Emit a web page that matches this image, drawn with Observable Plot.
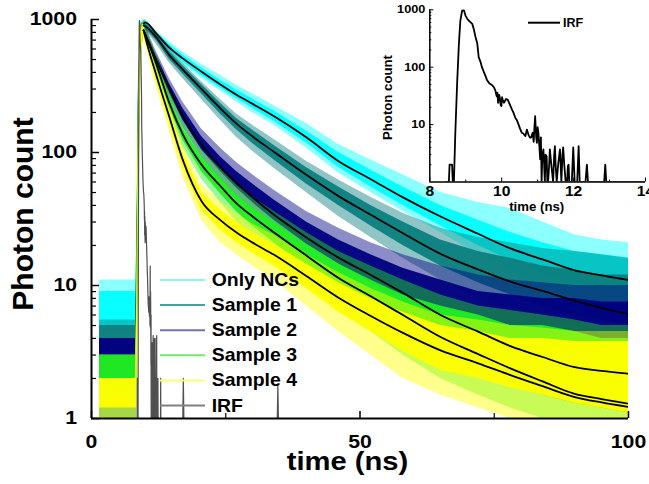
<!DOCTYPE html>
<html><head><meta charset="utf-8">
<script src="https://cdn.jsdelivr.net/npm/d3@7"></script>
<script src="https://cdn.jsdelivr.net/npm/@observablehq/plot@0.6"></script>
<style>
html,body{margin:0;padding:0;background:#fff;}
#wrap{position:relative;width:649px;height:484px;overflow:hidden;font-family:"Liberation Sans",Arial,sans-serif;}
#wrap > svg{position:absolute;overflow:visible;}
</style></head><body><div id="wrap"></div>
<script>
// ---------- data ----------
const seriesNames = ["Only NCs", "Sample 1", "Sample 2", "Sample 3", "Sample 4", "IRF"];
const seriesColors = ["#00ffff", "#0b7f7f", "#000080", "#22ee22", "#ffff00", "#505050"];
const legendColors = ["#8ff4f4", "#4a9e9e", "#7070b8", "#70e870", "#ffff70", "#808080"];

// noisy decay envelopes (outer = spikes, inner = dense part)
const bandTimes = [1.5, 8.2, 8.45, 8.75, 9.2, 9.7, 10, 12, 14.5, 17, 20.5, 24, 27, 30, 34, 40, 46, 52, 58, 65, 72, 78, 84, 90, 95, 100];

const onlyNCsOuterLo = [4.5, 4.5, 4.5, 60, 600, 900, 880, 720, 560, 460, 360, 290, 240, 200, 160, 108, 70, 50, 36, 25, 17, 13, 10, 8, 7.5, 7];
const onlyNCsOuterHi = [11, 11, 30, 400, 950, 1000, 1000, 830, 680, 570, 460, 380, 320, 275, 225, 165, 115, 88, 68, 50, 42, 38, 30, 24, 22, 21];
const onlyNCsInnerLo = [5, 5, 5, 80, 700, 920, 900, 750, 590, 480, 380, 305, 255, 215, 172, 118, 77, 55, 40, 28, 20, 15.5, 12.5, 10.5, 9.5, 9];
const onlyNCsInnerHi = [9, 9, 20, 300, 900, 980, 990, 810, 650, 540, 430, 350, 295, 252, 205, 145, 100, 74, 55, 40, 31, 25, 21, 18, 17, 16];

const sample1OuterLo = [2, 2, 2, 50, 550, 850, 830, 660, 470, 360, 250, 175, 130, 102, 76, 50, 33, 23, 16, 11, 8, 6.5, 5.5, 5, 4.5, 4];
const sample1OuterHi = [5.5, 5.5, 25, 380, 930, 980, 960, 800, 600, 470, 340, 250, 195, 160, 125, 86, 62, 46, 35, 27, 23, 21, 19, 18, 17, 16];
const sample1InnerLo = [3, 3, 3, 70, 650, 870, 850, 700, 500, 390, 275, 195, 148, 117, 88, 58, 40, 28, 20, 14, 10.5, 8.5, 7, 6, 5.5, 5];
const sample1InnerHi = [5, 5, 15, 280, 880, 950, 930, 780, 575, 450, 325, 235, 180, 147, 113, 77, 55, 40, 30, 22, 18, 16, 14, 13, 12, 12];

const sample2OuterLo = [1, 1, 1, 40, 500, 800, 720, 440, 255, 155, 92, 62, 46, 35, 25, 16, 11, 7.5, 5, 3.5, 2.5, 2, 1.5, 1.3, 1.2, 1.1];
const sample2OuterHi = [4, 4, 20, 350, 900, 960, 900, 580, 360, 240, 150, 108, 84, 68, 52, 36, 27, 21, 17, 14, 12, 11, 10.5, 10, 10, 10];
const sample2InnerLo = [2, 2, 2, 60, 600, 820, 740, 470, 280, 175, 105, 72, 54, 42, 31, 20.5, 14.5, 10.5, 7.5, 5.5, 4.2, 3.5, 3, 2.6, 2.4, 2.2];
const sample2InnerHi = [4, 4, 12, 250, 850, 930, 850, 550, 330, 215, 132, 93, 72, 58, 44, 30, 22, 17, 13.5, 11, 9, 8.5, 8, 8, 7.5, 7.5];

const sample3OuterLo = [1, 1, 1, 30, 450, 780, 700, 400, 195, 110, 63, 42, 30, 23, 17, 10.5, 6.5, 4.5, 3, 2, 1.5, 1.2, 1, 1, 1, 1];
const sample3OuterHi = [3, 3, 15, 320, 880, 950, 880, 560, 290, 175, 105, 75, 57, 46, 36, 25, 18, 14, 11, 8.5, 7, 6.5, 6, 5.5, 5, 5];
const sample3InnerLo = [1.5, 1.5, 1.5, 50, 550, 800, 720, 430, 215, 124, 72, 49, 36, 28, 21, 13.5, 9, 6.3, 4.5, 3, 2.2, 1.8, 1.5, 1.3, 1.2, 1.1];
const sample3InnerHi = [3, 3, 10, 220, 830, 920, 840, 520, 262, 152, 92, 64, 48, 38.5, 30, 20.5, 14.5, 11, 8.5, 7, 6, 5, 5, 4.5, 4, 4];

const sample4OuterLo = [1, 1, 1, 20, 400, 760, 650, 320, 145, 65, 31, 21, 17, 14, 11, 7, 4.5, 3, 2, 1.5, 1.2, 1, 1, 1, 1, 1];
const sample4OuterHi = [2, 2, 12, 300, 870, 1000, 850, 470, 230, 115, 58, 43, 35, 29, 24, 17, 12.5, 9.5, 7.5, 6, 5.5, 5, 4.8, 4.5, 4.5, 4.5];
const sample4InnerLo = [1.2, 1.2, 1.2, 30, 500, 780, 690, 350, 165, 77, 37, 26, 21, 17.5, 14, 9.5, 6.3, 4.5, 3.2, 2.3, 2, 1.7, 1.5, 1.3, 1.2, 1.1];
const sample4InnerHi = [2, 2, 8, 200, 820, 960, 800, 430, 205, 100, 50, 37, 30, 25, 20.5, 14.5, 10.5, 8, 6.3, 5, 4.5, 4, 4, 3.8, 3.8, 3.8];

// fitted curves (black lines)
const fitTimes = [9.7, 10, 12, 14.5, 17, 20.5, 24, 27, 30, 34, 40, 46, 52, 58, 65, 72, 78, 84, 90, 95, 100];
const onlyNCsFit = [930, 950, 790, 615, 510, 405, 325, 272, 232, 187, 130, 86, 63, 46, 33, 24.5, 19, 15.7, 13, 11.9, 11];
const sample1Fit = [900, 890, 740, 540, 420, 300, 215, 165, 132, 101, 68, 47, 34, 24.7, 17.3, 13.2, 10.7, 9.1, 7.7, 6.8, 6.1];
const sample2Fit = [830, 780, 500, 300, 188, 114, 78, 59, 46, 34, 23, 16.2, 12, 8.8, 6, 4.5, 3.5, 2.9, 2.43, 2.28, 2.17];
const sample3Fit = [830, 770, 470, 235, 137, 81, 56, 41.5, 33, 25, 16.8, 11.4, 8.3, 6, 4.1, 3.05, 2.38, 1.9, 1.53, 1.4, 1.29];
const sample4Fit = [830, 740, 390, 185, 88, 43, 31, 25, 21, 17, 11.8, 8.1, 5.9, 4.4, 3.25, 2.6, 2.12, 1.75, 1.45, 1.32, 1.22];

// instrument response function (1 = no counts, sits on the axis)
const irfTime = [8.45, 8.53, 8.55, 8.62, 8.64, 8.67, 8.71, 8.76, 8.81, 8.85, 8.9, 8.95, 8.99, 9.04, 9.08, 9.13, 9.18, 9.22, 9.27, 9.32, 9.36, 9.41, 9.45, 9.5, 9.55, 9.59, 9.66, 9.73, 9.78, 9.82, 9.86, 9.88, 9.9, 9.93, 9.95, 9.97, 9.99, 10.01, 10.03, 10.06, 10.08, 10.12, 10.17, 10.23, 10.29, 10.33, 10.38, 10.42, 10.47, 10.51, 10.56, 10.6, 10.66, 10.7, 10.75, 10.79, 10.82, 10.86, 10.89, 10.91, 10.93, 10.96, 10.98, 11.0, 11.02, 11.05, 11.07, 11.09, 11.11, 11.13, 11.16, 11.18, 11.2, 11.22, 11.25, 11.27, 11.29, 11.32, 11.34, 11.38, 11.43, 11.46, 11.48, 11.5, 11.53, 11.57, 11.62, 11.64, 11.66, 11.69, 11.71, 11.74, 11.78, 11.82, 11.84, 11.86, 11.88, 11.95, 11.99, 12.01, 12.03, 12.1, 12.14, 12.17, 12.33, 12.37, 12.4, 12.85, 12.88, 12.91, 17.0, 17.1, 17.2, 34.6, 34.7, 34.8, 100];
const irfCount = [1, 1, 2, 2, 1, 1, 7.2, 52, 260, 650, 975, 980, 800, 700, 650, 610, 570, 470, 340, 260, 150, 124, 100, 84, 70, 60, 52, 49, 45, 40, 31, 36, 24, 33, 29, 22, 21, 30, 27, 24, 25, 28, 27, 22, 18, 16, 13, 12, 10, 8.5, 7.2, 7, 6.3, 8.2, 6.5, 5.9, 6, 7.2, 5, 9, 14, 6, 4.8, 9, 7.2, 4, 2.5, 6, 1, 3, 3.7, 2, 1, 3, 2.8, 1, 1, 2, 3.7, 2, 1, 3, 4.2, 2, 1, 2, 3.7, 2, 1, 3, 4, 2, 1, 1, 1.9, 2, 1, 1, 4, 2, 1, 1, 4.2, 1, 1, 2, 1, 1, 2, 1, 1, 2, 1, 1, 1.8, 1, 1];

// axes
const xDomain = [0, 100];
const yDomain = [1, 1000];
const xMajor = [0, 50, 100];
const xMinor = [25, 75];
const yMajor = [1, 10, 100, 1000];
const yMinor = [2, 3, 4, 5, 6, 7, 8, 9, 20, 30, 40, 50, 60, 70, 80, 90, 200, 300, 400, 500, 600, 700, 800, 900];
const insetXDomain = [8, 14];
const insetXMajor = [8, 10, 12, 14];
const insetXMinor = [9, 11, 13];
const insetYMajor = [10, 100, 1000];
const insetYMinor = [2, 3, 4, 5, 6, 7, 8, 9, 20, 30, 40, 50, 60, 70, 80, 90, 200, 300, 400, 500, 600, 700, 800, 900];

// ---------- build ----------
const FONT = '"Liberation Sans", Arial, sans-serif';
const bands = [
  [onlyNCsOuterLo, onlyNCsOuterHi, onlyNCsInnerLo, onlyNCsInnerHi],
  [sample1OuterLo, sample1OuterHi, sample1InnerLo, sample1InnerHi],
  [sample2OuterLo, sample2OuterHi, sample2InnerLo, sample2InnerHi],
  [sample3OuterLo, sample3OuterHi, sample3InnerLo, sample3InnerHi],
  [sample4OuterLo, sample4OuterHi, sample4InnerLo, sample4InnerHi]
];
const fits = [onlyNCsFit, sample1Fit, sample2Fit, sample3Fit, sample4Fit];
const irf = irfTime.map((t, i) => ({t, v: irfCount[i]}));

const bandMarks = [];
bands.forEach((b, k) => {
  const outer = bandTimes.map((t, i) => ({t, lo: b[0][i], hi: b[1][i]}));
  const inner = bandTimes.map((t, i) => ({t, lo: b[2][i], hi: b[3][i]}));
  bandMarks.push(Plot.areaY(outer, {x: "t", y1: "lo", y2: "hi", fill: seriesColors[k], fillOpacity: 0.45, clip: true}));
  bandMarks.push(Plot.areaY(inner, {x: "t", y1: "lo", y2: "hi", fill: seriesColors[k], fillOpacity: 0.95, clip: true}));
});
const fitMarks = fits.map(f => Plot.line(fitTimes.map((t, i) => ({t, v: f[i]})), {x: "t", y: "v", stroke: "black", strokeWidth: 1.8, curve: "monotone-x", clip: true}));

const main = Plot.plot({
  width: 649, height: 484,
  marginLeft: 91, marginRight: 21, marginTop: 19, marginBottom: 66,
  style: {fontFamily: FONT, background: "transparent", overflow: "visible"},
  x: {domain: xDomain},
  y: {type: "log", domain: yDomain},
  marks: [
    ...bandMarks,
    Plot.line(irf, {x: "t", y: "v", stroke: seriesColors[5], strokeWidth: 1.2, clip: true}),
    ...fitMarks,
    Plot.ruleX([xDomain[0]], {strokeWidth: 2}),
    Plot.ruleY([yDomain[0]], {strokeWidth: 2}),
    Plot.axisY(yMajor, {tickSize: -8, fill: "none", label: null, strokeWidth: 1.5}),
    Plot.axisY(yMinor, {tickSize: -5, fill: "none", label: null, strokeWidth: 1.2}),
    Plot.axisY(yMajor, {tickSize: 0, tickPadding: 14.5, label: null, fontSize: 18, fontWeight: "bold", tickFormat: d => String(d)}),
    Plot.axisX(xMajor, {tickSize: -7, fill: "none", label: null, strokeWidth: 1.5}),
    Plot.axisX(xMinor, {tickSize: -5, fill: "none", label: null, strokeWidth: 1.2}),
    Plot.axisX(xMajor, {tickSize: 0, tickPadding: 17, label: null, fontSize: 18, fontWeight: "bold", tickFormat: d => String(d)})
  ]
});

const inset = Plot.plot({
  width: 289, height: 215,
  marginLeft: 69.3, marginRight: 4, marginTop: 9.3, marginBottom: 33.5,
  style: {fontFamily: FONT, background: "transparent", overflow: "visible"},
  x: {domain: insetXDomain},
  y: {type: "log", domain: yDomain},
  marks: [
    Plot.line(irf, {x: "t", y: "v", stroke: "black", strokeWidth: 1.8, clip: true}),
    Plot.ruleX([insetXDomain[0]], {strokeWidth: 1.5}),
    Plot.ruleY([yDomain[0]], {strokeWidth: 1.5}),
    Plot.axisY(insetYMajor, {tickSize: -4, fill: "none", label: null}),
    Plot.axisY(insetYMinor, {tickSize: -2, fill: "none", label: null}),
    Plot.axisY(insetYMajor, {tickSize: 0, tickPadding: 4.5, label: null, fontSize: 11, fontWeight: "bold", tickFormat: d => String(d)}),
    Plot.axisX(insetXMajor, {tickSize: -4, fill: "none", label: null}),
    Plot.axisX(insetXMinor, {tickSize: -2, fill: "none", label: null}),
    Plot.axisX(insetXMajor, {tickSize: 0, tickPadding: 4.5, label: null, fontSize: 14, fontWeight: "bold", tickFormat: d => String(d)})
  ]
});

const wrap = document.getElementById("wrap");
main.style.left = "0px"; main.style.top = "0px";
inset.style.left = "360px"; inset.style.top = "0px";
wrap.appendChild(main);
wrap.appendChild(inset);

// titles and legends
const ov = d3.create("svg").attr("width", 649).attr("height", 484)
  .style("left", "0px").style("top", "0px").style("font-family", FONT).style("font-weight", "bold");
ov.append("text").attr("transform", "translate(33,214) rotate(-90)").attr("text-anchor", "middle")
  .attr("font-size", 30).text("Photon count");
ov.append("text").attr("x", 347.5).attr("y", 470).attr("text-anchor", "middle")
  .attr("font-size", 26.5).attr("class", "st").attr("data-f", 1.1).text("time (ns)");
ov.append("text").attr("transform", "translate(392,97.5) rotate(-90)").attr("text-anchor", "middle")
  .attr("font-size", 13.2).text("Photon count");
ov.append("text").attr("x", 536.7).attr("y", 211).attr("text-anchor", "middle")
  .attr("font-size", 12).attr("class", "st").attr("data-f", 1.1).text("time (ns)");
// inset legend
ov.append("line").attr("x1", 528).attr("x2", 560).attr("y1", 22.7).attr("y2", 22.7).attr("stroke", "black").attr("stroke-width", 2);
ov.append("text").attr("x", 563).attr("y", 27.2).attr("font-size", 12.5).text("IRF");
// main legend
seriesNames.forEach((name, i) => {
  const by = 286 + i * 25.1;
  ov.append("line").attr("x1", 160).attr("x2", 205).attr("y1", by - 6).attr("y2", by - 6)
    .attr("stroke", legendColors[i]).attr("stroke-width", 2);
  ov.append("text").attr("x", 211.7).attr("y", by).attr("font-size", 18.5)
    .attr("class", "st").attr("data-f", 1.05).text(name);
});
wrap.appendChild(ov.node());

// horizontal stretch of the bold lettering, as in the picture
function stretch(texts, f) {
  texts.forEach(t => {
    const L = t.getComputedTextLength();
    if (L > 0) { t.setAttribute("textLength", (L * f).toFixed(1)); t.setAttribute("lengthAdjust", "spacingAndGlyphs"); }
  });
}
stretch(main.querySelectorAll("text"), 1.18);
stretch(inset.querySelectorAll('g[aria-label="y-axis tick label"] text'), 1.15);
stretch(inset.querySelectorAll('g[aria-label="x-axis tick label"] text'), 1.12);
ov.node().querySelectorAll("text.st").forEach(t => stretch([t], +t.getAttribute("data-f")));
</script></body></html>
